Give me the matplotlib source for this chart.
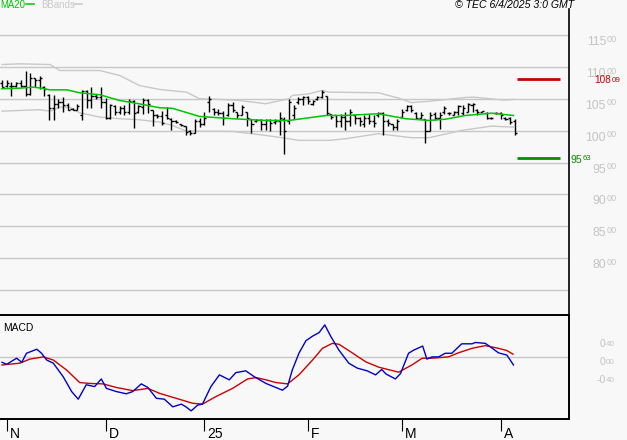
import numpy as np
import matplotlib
matplotlib.use('Agg')
import matplotlib.pyplot as plt
from matplotlib.lines import Line2D

plt.rcParams['font.family'] = ['Liberation Sans', 'DejaVu Sans']

# daily OHLC bars
opens = [10740,10700,10700,10700,10740,10700,10580,10820,10790,10690,
         10560,10350,10420,10450,10400,10340,10330,10250,10620,10480,
         10550,10520,10450,10200,10380,10300,10350,10300,10470,10300,
         10370,10480,10320,10250,10230,10250,10190,10150,10100,10070,
         9990,9970,10150,10100,10450,10340,10300,10280,10240,10400,
         10300,10250,10300,10180,10150,10170,10110,10170,10140,10150,
         10180,10150,10250,10450,10500,10520,10420,10500,10520,10550,
         10260,10240,10150,10220,10150,10240,10200,10100,10200,10150,
         10250,10280,10150,10100,10050,10220,10320,10380,10280,10200,
         10180,10000,10260,10200,10300,10270,10250,10300,10280,10300,
         10400,10320,10300,10270,10200,10270,10280,10200,10200,10150]
highs = [10800,10790,10760,10770,10800,10940,10900,10830,10850,10700,
         10580,10560,10500,10530,10440,10360,10410,10640,10640,10690,
         10570,10680,10510,10420,10405,10385,10405,10490,10475,10405,
         10510,10490,10330,10265,10315,10370,10195,10160,10110,10070,
         10005,10185,10195,10300,10550,10355,10345,10315,10435,10450,
         10300,10395,10300,10185,10175,10185,10185,10185,10175,10300,
         10210,10500,10395,10525,10550,10550,10473,10550,10640,10550,
         10265,10240,10265,10290,10345,10240,10210,10240,10265,10240,
         10290,10290,10185,10110,10185,10345,10395,10395,10290,10290,
         10185,10290,10290,10290,10385,10290,10315,10395,10395,10435,
         10435,10345,10315,10290,10210,10290,10290,10210,10210,10185]
lows = [10680,10680,10540,10680,10680,10540,10560,10680,10660,10550,
        10170,10170,10360,10300,10320,10320,10320,10170,10350,10350,
        10500,10350,10185,10185,10240,10265,10250,10265,10040,10280,
        10265,10280,10080,10195,10090,10175,10005,10125,10070,9925,
        9925,9960,10055,10090,10290,10250,10250,10090,10230,10300,
        10195,10240,10070,9965,10135,10005,10005,9995,10110,9925,
        9640,10110,10185,10420,10395,10420,10395,10473,10510,10240,
        10175,10055,10055,10005,10080,10110,10080,10055,10110,10055,
        10210,9925,10080,10005,10005,10210,10315,10290,10185,10185,
        9805,9995,10160,10030,10265,10240,10240,10240,10240,10290,
        10290,10240,10290,10185,10185,10265,10185,10170,10110,9925]
closes = [10690,10740,10700,10740,10700,10580,10820,10790,10830,10650,
          10350,10420,10450,10400,10330,10330,10380,10620,10480,10550,
          10520,10450,10200,10400,10300,10350,10300,10470,10280,10380,
          10480,10420,10250,10230,10120,10200,10150,10140,10090,9980,
          9960,10150,10100,10200,10500,10300,10280,10200,10400,10330,
          10250,10370,10200,10100,10170,10100,10170,10120,10150,10200,
          10000,10450,10350,10500,10520,10460,10460,10520,10600,10270,
          10220,10150,10220,10150,10300,10200,10150,10200,10150,10120,
          10280,10150,10120,10050,10150,10300,10380,10330,10200,10250,
          10000,10250,10200,10250,10350,10280,10300,10380,10350,10420,
          10420,10300,10310,10200,10200,10280,10250,10180,10130,9970]

# MA20 and Bollinger bands (bar index, value)
ma_idx = [0,3.8,6.6,8,10.2,13.8,16.5,20.8,25,29.2,33.5,36.2,42,49,56,61,63,
          68.9,73,80,85.8,90.7,94.3,98.5,104,108.7]
ma_val = [10657,10666,10682,10670,10640,10640,10594,10563,10473,10420,10359,
          10350,10223,10187,10160,10160,10180,10238,10238,10265,10187,10160,
          10180,10238,10274,10238]
up_idx = [0,3.8,10.2,12.3,20.8,25,29.2,33.5,39.2,42,46.2,50.4,56,61,61.7,
          65.3,68,69.5,80,84.3,87,90.7,98.5,100.2,106.6,108.7]
up_val = [11037,11048,11037,10943,10943,10865,10708,10646,10604,10500,10490,
          10473,10422,10500,10552,10578,10630,10604,10594,10510,10440,10460,
          10520,10525,10480,10490]
lo_idx = [0,8,10.2,12.3,14.4,16.5,20.8,25,29.2,33.5,36.2,39.2,49,56,61,63,
          69.5,73,80,87,90.7,97.7,104,108.7]
lo_val = [10306,10328,10306,10369,10369,10280,10212,10187,10171,10134,10082,
          9993,9988,9925,9873,9847,9847,9873,9952,9889,9889,10003,10071,10055]

# MACD / signal (bar index, value)
macd_idx = [0,1,3.1,4.2,5.2,7.4,8.4,9.5,10.9,13,14.8,16.2,17.9,19.7,21.1,22.2,
            24.3,26.4,27.8,29.6,31,32.8,34.5,36.3,38.1,39.1,40.2,41.6,42.6,
            44.4,46.2,48.3,49.7,51.8,53.6,56.1,58.2,59.6,60.7,61.7,63.1,64.6,
            66,67.4,68.6,69.9,71.6,73.7,75.5,77.6,79.4,80.7,81.6,83.6,84.7,
            86.4,87.5,89.4,90.3,91.4,92.8,94.2,95.6,96.7,97.7,99.9,100.6,
            102.7,103.7,105.5,107.3,108.7]
macd_val = [-0.11,-0.155,-0.02,-0.11,0.09,0.18,0.09,-0.06,-0.13,-0.43,-0.76,
            -0.93,-0.61,-0.65,-0.48,-0.69,-0.76,-0.81,-0.76,-0.59,-0.67,-0.91,
            -0.93,-1.10,-1.04,-1.10,-1.19,-1.06,-1.04,-0.65,-0.39,-0.50,-0.34,
            -0.30,-0.43,-0.58,-0.67,-0.73,-0.64,-0.28,0.09,0.37,0.47,0.55,0.72,
            0.46,0.16,-0.13,-0.24,-0.30,-0.39,-0.27,-0.37,-0.48,-0.36,0.09,0.16,
            0.25,-0.04,0.01,0.01,0.09,0.09,0.20,0.30,0.30,0.33,0.31,0.24,0.10,
            0.05,-0.17]
sig_idx = [0,3.8,5.9,8.8,10.9,13.7,16.5,18.6,21.5,24.3,27.8,31,33.5,37,40.5,
           42.6,45.5,49,52.2,54,56.1,58.2,60.7,63.1,66,68.1,70.2,71.6,73.7,
           77.3,80.1,84.3,87.1,89.3,91.4,94.9,97,99.9,102.7,105.5,107.3,108.6]
sig_val = [-0.17,-0.13,-0.04,0.01,-0.06,-0.28,-0.56,-0.58,-0.59,-0.67,-0.74,
           -0.69,-0.80,-0.91,-1.02,-1.04,-0.87,-0.69,-0.48,-0.45,-0.50,-0.56,
           -0.59,-0.39,-0.06,0.20,0.31,0.29,0.15,-0.10,-0.22,-0.33,-0.17,-0.02,
           -0.02,0.01,0.10,0.20,0.26,0.20,0.15,0.07]

res_level = 10809
sup_level = 9563
month_pos = [1, 22, 43, 65, 85, 106]
month_lab = ['N', 'D', '25', 'F', 'M', 'A']
price_ticks = [8000, 8500, 9000, 9500, 10000, 10500, 11000, 11500]
macd_ticks = [0.4, 0.0, -0.4]

W, H = 627, 440
bg = '#f8f8f8'
grid_c = '#c8c8c8'
lab_c = '#c4c4c4'

fig = plt.figure(figsize=(W/100, H/100), dpi=100, facecolor=bg)
ax = fig.add_axes([0, 125/H, 569/W, 306/H], facecolor=bg)
ax2 = fig.add_axes([0, 21/H, 569/W, 104/H], facecolor=bg)

xl = (-0.425, 120.5)
x = np.arange(len(closes))

# price panel
for v in range(7500, 12000, 500):
    ax.axhline(v, color=grid_c, lw=1, zorder=0)
ax.plot(up_idx, up_val, color='#c8c8c8', lw=1, zorder=1)
ax.plot(lo_idx, lo_val, color='#c8c8c8', lw=1, zorder=1)
ax.vlines(x, lows, highs, color='k', lw=1, zorder=2)
ax.hlines(opens, x - 0.45, x, color='k', lw=1, zorder=2)
ax.hlines(closes, x, x + 0.45, color='k', lw=1, zorder=2)
ax.plot(ma_idx, ma_val, color='#00c400', lw=1.1, zorder=3)
ax.hlines(res_level, 109.5, 118.6, color='#cc0000', lw=2)
ax.hlines(sup_level, 109.5, 118.6, color='#009000', lw=2)
ax.set_xlim(*xl)
ax.set_ylim(7108, 11908)
ax.set_xticks([])
ax.set_yticks([])
for s in ['left', 'top', 'bottom']:
    ax.spines[s].set_visible(False)
ax.spines['right'].set_linewidth(1.2)

def split_label(a, yval, big, small, xfrac, dy_big, dy_small, fs_big, fs_small, color):
    a.annotate(big, xy=(xfrac, yval), xycoords=('figure fraction', 'data'),
               xytext=(0, -dy_big), textcoords='offset pixels', ha='right',
               va='baseline', fontsize=fs_big, color=color, annotation_clip=False)
    a.annotate(small, xy=(xfrac, yval), xycoords=('figure fraction', 'data'),
               xytext=(0.5, -dy_small), textcoords='offset pixels', ha='left',
               va='baseline', fontsize=fs_small, color=color, annotation_clip=False)

for v in price_ticks:
    split_label(ax, v, str(v // 100), '00', 606/W, 10, 6.7, 8.8, 6.6, lab_c)

split_label(ax, res_level, str(res_level // 100), '%02d' % (res_level % 100),
            611.5/W, 4.4, 3.1, 7.2, 5.8, '#cc0000')
split_label(ax, sup_level, str(sup_level // 100), '%02d' % (sup_level % 100),
            582/W, 4.6, 1.9, 7.6, 5.6, '#009000')

# MACD panel
ax2.axhline(0, color=grid_c, lw=1, zorder=0)
ax2.plot(sig_idx, sig_val, color='#cc0000', lw=1.0)
ax2.plot(macd_idx, macd_val, color='#0000cc', lw=1.0)
ax2.set_xlim(*xl)
ax2.set_ylim(-1.37, 0.94)
ax2.set_yticks([])
ax2.spines['left'].set_visible(False)
for s in ['top', 'right', 'bottom']:
    ax2.spines[s].set_linewidth(1.4)
ax2.set_xticks(month_pos)
ax2.tick_params(axis='x', length=8.6, width=0.8, direction='out',
                labelbottom=False, color='k')
for p, lab in zip(month_pos, month_lab):
    ax2.annotate(lab, xy=(p, 0), xycoords=('data', 'axes fraction'),
                 xytext=(3, -19), textcoords='offset pixels', ha='left',
                 va='baseline', fontsize=10, color='k', annotation_clip=False)

for v in macd_ticks:
    ip = int(abs(v))
    big = ('-' if v < 0 else '') + str(ip)
    small = '%02d' % round(abs(v) * 100 % 100)
    split_label(ax2, v, big, small, 605.5/W, 7.7, 6.5, 7.6, 5.8, lab_c)

ax2.text(3/W, 1 - 331/H, 'MACD', transform=fig.transFigure, fontsize=7.4,
         color='k', va='baseline', ha='left')

# legend and header
fig.text(0, 1 - 8.5/H, 'MA20', fontsize=6.9, color='#00c400', va='baseline')
fig.add_artist(Line2D([26/W, 34/W], [1 - 4.5/H, 1 - 4.5/H], color='#00c400', lw=1.1))
fig.text(41/W, 1 - 8.5/H, 'BBands', fontsize=6.9, color='#c8c8c8', va='baseline')
fig.add_artist(Line2D([74/W, 82/W], [1 - 4.5/H, 1 - 4.5/H], color='#c8c8c8', lw=1.1))
fig.text(574/W, 1 - 8.5/H, '\u00a9 TEC 6/4/2025 3:0 GMT', fontsize=7.6,
         style='italic', color='k', ha='right', va='baseline')

fig.savefig('out.png', dpi=100, facecolor=bg)
